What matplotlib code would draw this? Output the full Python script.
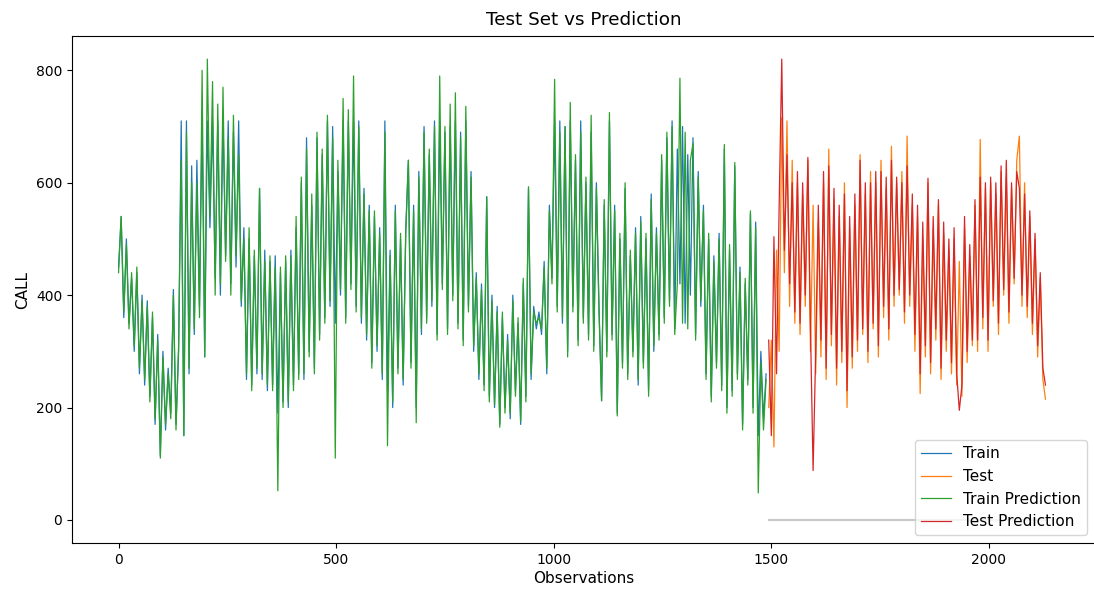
import numpy as np
import matplotlib
matplotlib.use("Agg")
import matplotlib.pyplot as plt

step = 6

train = [
    450, 540, 360, 500, 350, 430, 300, 440, 260, 400,
    240, 390, 220, 360, 170, 330, 115, 300, 160, 270,
    190, 410, 170, 300, 710, 150, 710, 260, 630, 330,
    640, 380, 710, 290, 710, 520, 710, 430, 710, 400,
    710, 470, 710, 420, 690, 450, 710, 380, 520, 250,
    500, 240, 470, 260, 590, 250, 480, 230, 460, 240,
    470, 190, 440, 210, 460, 200, 480, 240, 520, 260,
    600, 250, 680, 300, 560, 270, 680, 330, 650, 360,
    710, 380, 700, 350, 620, 400, 710, 360, 710, 420,
    710, 380, 710, 350, 590, 320, 560, 280, 540, 300,
    520, 250, 710, 230, 480, 200, 560, 270, 500, 240,
    520, 640, 280, 560, 200, 620, 330, 700, 360, 650,
    380, 710, 330, 710, 420, 690, 340, 700, 400, 710,
    350, 690, 320, 710, 380, 620, 300, 440, 250, 420,
    240, 575, 220, 400, 200, 380, 170, 360, 200, 330,
    180, 400, 230, 350, 170, 420, 220, 590, 250, 380,
    340, 370, 330, 460, 260, 560, 430, 710, 380, 710,
    350, 700, 300, 710, 380, 640, 320, 710, 360, 600,
    330, 690, 310, 600, 380, 212, 560, 300, 710, 330,
    560, 190, 500, 280, 590, 260, 470, 300, 520, 240,
    540, 280, 500, 230, 580, 300, 520, 330, 640, 360,
    680, 390, 710, 340, 660, 420, 700, 350, 650, 400,
    680, 330, 620, 380, 560, 260, 500, 220, 470, 280,
    510, 240, 660, 200, 480, 230, 630, 260, 450, 170,
    420, 250, 545, 200, 530, 150, 300, 180, 260,
]

train_pred = [
    440, 540, 370, 490, 340, 440, 310, 450, 270, 390,
    250, 380, 210, 370, 180, 320, 110, 290, 170, 260,
    180, 400, 160, 310, 640, 150, 690, 270, 600, 340,
    600, 360, 800, 290, 820, 540, 780, 400, 740, 420,
    770, 460, 680, 400, 720, 470, 650, 390, 500, 260,
    520, 230, 480, 270, 590, 260, 460, 240, 470, 230,
    450, 52, 450, 200, 470, 210, 470, 230, 540, 250,
    610, 260, 660, 290, 580, 260, 690, 320, 660, 350,
    720, 390, 680, 110, 640, 410, 750, 350, 730, 410,
    790, 370, 700, 360, 580, 330, 550, 270, 550, 310,
    510, 260, 690, 132, 470, 210, 550, 260, 510, 250,
    510, 640, 270, 550, 173, 610, 340, 690, 350, 660,
    390, 700, 320, 790, 410, 700, 330, 740, 390, 760,
    340, 680, 310, 736, 370, 610, 310, 430, 260, 410,
    230, 575, 210, 390, 205, 370, 165, 370, 190, 320,
    190, 390, 220, 360, 175, 430, 210, 593, 260, 370,
    350, 360, 340, 450, 270, 550, 420, 784, 370, 690,
    360, 700, 290, 743, 370, 650, 310, 690, 350, 610,
    320, 720, 300, 590, 370, 212, 570, 290, 725, 320,
    550, 185, 510, 270, 600, 250, 480, 290, 510, 250,
    530, 270, 510, 220, 570, 310, 510, 320, 650, 350,
    690, 380, 700, 330, 420, 786, 350, 690, 340, 640,
    670, 320, 610, 390, 550, 250, 510, 210, 460, 270,
    500, 230, 668, 190, 490, 220, 636, 250, 440, 160,
    430, 240, 550, 190, 520, 48, 280, 160, 250,
]

test = [
    200, 320, 130, 480, 300, 716, 440, 710, 380, 640,
    350, 600, 330, 580, 380, 640, 300, 560, 260, 530,
    290, 600, 250, 660, 310, 570, 240, 540, 280, 600,
    200, 520, 270, 560, 300, 650, 330, 580, 280, 620,
    340, 600, 290, 640, 360, 590, 320, 665, 380, 600,
    400, 620, 350, 683, 380, 560, 300, 540, 225, 500,
    290, 600, 260, 520, 320, 560, 250, 510, 300, 480,
    260, 500, 240, 460, 220, 520, 280, 470, 310, 560,
    300, 677, 340, 590, 300, 600, 380, 580, 330, 620,
    400, 610, 350, 590, 420, 640, 683, 380, 600, 360,
    540, 330, 500, 290, 430, 250, 215,
]

test_pred = [
    320, 150, 504, 260, 560, 820, 480, 650, 420, 600,
    370, 620, 350, 600, 400, 645, 340, 88, 300, 560,
    320, 620, 270, 630, 330, 590, 270, 560, 300, 580,
    230, 540, 290, 580, 320, 640, 340, 600, 300, 600,
    350, 620, 310, 620, 380, 610, 340, 640, 400, 610,
    410, 600, 370, 630, 400, 580, 330, 560, 260, 530,
    310, 608, 280, 540, 340, 570, 270, 530, 320, 500,
    280, 520, 260, 195, 240, 540, 300, 490, 320, 570,
    320, 610, 360, 600, 320, 610, 390, 600, 350, 630,
    410, 640, 370, 600, 430, 620, 590, 400, 580, 380,
    550, 350, 510, 310, 440, 270, 240,
]

train_x = np.arange(len(train)) * step
test_x = train_x[-1] + step + np.arange(len(test)) * step
padding = np.zeros(len(test))

plt.rcParams["font.size"] = 11

fig = plt.figure(figsize=(10.94, 5.95), dpi=100)
ax = fig.add_axes([0.0658, 0.0874, 0.9352, 0.852])

ax.plot(test_x, padding, color="#c8c8c8", lw=1.5)
ax.plot(train_x, train, color="tab:blue", lw=0.9, label="Train")
ax.plot(test_x, test, color="tab:orange", lw=0.9, label="Test")
ax.plot(train_x, train_pred, color="tab:green", lw=0.9, label="Train Prediction")
ax.plot(test_x, test_pred, color="tab:red", lw=0.9, label="Test Prediction")

ax.set_title("Test Set vs Prediction", pad=8)
ax.set_xlabel("Observations", labelpad=3)
ax.set_ylabel("CALL")
ax.set_xlim(-107, 2244)
ax.tick_params(labelsize=10)
ax.legend(loc="lower right")

fig.savefig("out.png", dpi=100)
